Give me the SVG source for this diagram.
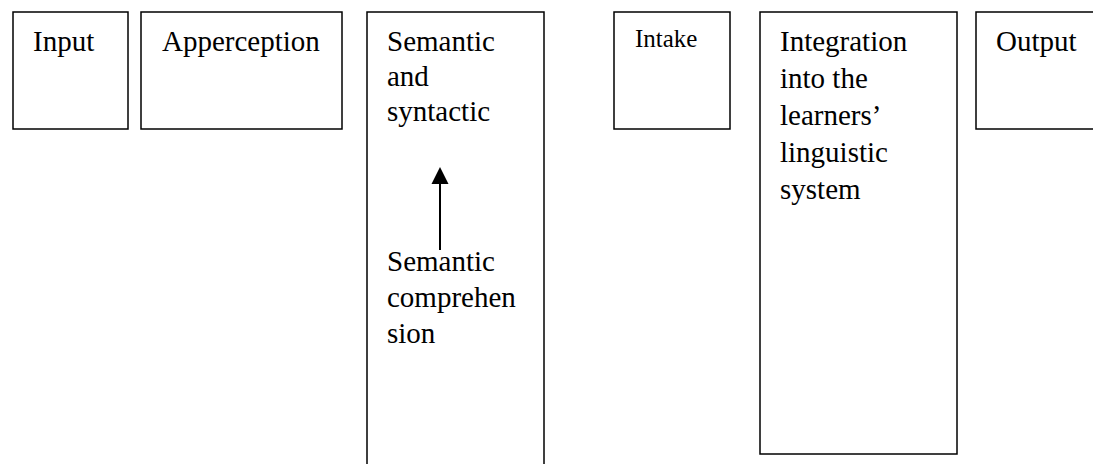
<svg xmlns="http://www.w3.org/2000/svg" width="1093" height="464" viewBox="0 0 1093 464">
<style>
.box{fill:#fff;stroke:#000;stroke-width:1.5}
.t{font-family:"Liberation Serif","Times New Roman",serif;font-size:29px;fill:#000}
.s{font-size:25px}
.conn{stroke:#000;stroke-width:2;fill:none}
</style>
<rect width="1093" height="464" fill="#fff"/>
<g id="input">
<rect class="box" x="13" y="12" width="115" height="117"/>
<text class="t" x="33" y="51">Input</text>
</g>
<g id="apperception">
<rect class="box" x="141" y="12" width="201" height="117"/>
<text class="t" x="162" y="51">Apperception</text>
</g>
<g id="semantic">
<rect class="box" x="367" y="12" width="177" height="470"/>
<text class="t" x="387" y="51">Semantic</text>
<text class="t" x="387" y="86">and</text>
<text class="t" x="387" y="121">syntactic</text>
<text class="t" x="387" y="271">Semantic</text>
<text class="t" x="387" y="307">comprehen</text>
<text class="t" x="387" y="343">sion</text>
</g>
<g id="intake">
<rect class="box" x="614" y="12" width="116" height="117"/>
<text class="t s" x="635" y="47">Intake</text>
</g>
<g id="integration">
<rect class="box" x="760" y="12" width="197" height="442"/>
<text class="t" x="780" y="51">Integration</text>
<text class="t" x="780" y="88">into the</text>
<text class="t" x="780" y="125">learners’</text>
<text class="t" x="780" y="162">linguistic</text>
<text class="t" x="780" y="199">system</text>
</g>
<g id="output">
<rect class="box" x="976" y="12" width="140" height="117"/>
<text class="t" x="996" y="51">Output</text>
</g>
<g id="connectors">
<path d="M440,167 L448.5,184 L431.5,184 Z" fill="#000"/>
<line class="conn" x1="440" y1="250" x2="440" y2="183"/>
</g>
</svg>
